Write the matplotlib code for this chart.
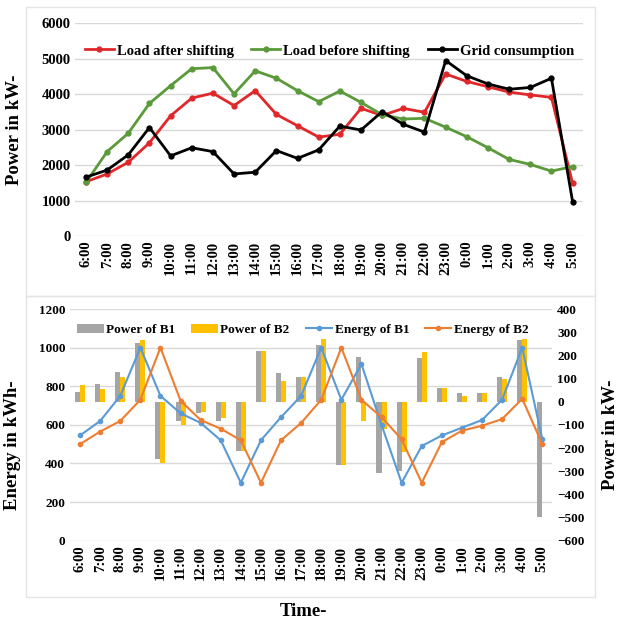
import matplotlib
matplotlib.use("Agg")
import matplotlib.pyplot as plt
from matplotlib.patches import Rectangle
import numpy as np

plt.rcParams['font.family'] = ['Liberation Serif', 'DejaVu Serif']
plt.rcParams['font.weight'] = 'bold'

# hours of the day, starting at 6:00
hours = ['6:00', '7:00', '8:00', '9:00', '10:00', '11:00', '12:00', '13:00',
         '14:00', '15:00', '16:00', '17:00', '18:00', '19:00', '20:00', '21:00',
         '22:00', '23:00', '0:00', '1:00', '2:00', '3:00', '4:00', '5:00']

# top chart (kW)
load_after = [1530, 1750, 2080, 2630, 3390, 3890, 4030, 3680, 4100, 3430, 3110, 2790,
              2870, 3600, 3400, 3600, 3490, 4570, 4360, 4210, 4060, 3980, 3910, 1490]
load_before = [1510, 2380, 2900, 3740, 4240, 4720, 4750, 4010, 4660, 4450, 4100, 3790,
               4090, 3770, 3420, 3300, 3320, 3070, 2800, 2490, 2160, 2020, 1830, 1960]
grid_cons = [1660, 1860, 2290, 3060, 2260, 2490, 2380, 1750, 1800, 2410, 2190, 2430,
             3100, 2990, 3510, 3150, 2930, 4950, 4520, 4290, 4140, 4190, 4450, 970]

# bottom chart: battery power (kW, right axis) and energy (kWh, left axis)
power_b1 = [43, 77, 127, 253, -247, -83, -51, -83, -214, 217, 124, 107,
            243, -273, 193, -309, -300, 189, 60, 36, 39, 107, 267, -497]
power_b2 = [70, 53, 106, 267, -266, -100, -43, -69, -211, 217, 91, 107,
            271, -273, -83, -116, -216, 214, 60, 24, 36, 100, 271, 0]
energy_b1 = [545, 620, 750, 1000, 750, 660, 610, 520, 300, 520, 640, 750,
             1000, 730, 915, 600, 300, 490, 545, 585, 625, 730, 1000, 525]
energy_b2 = [500, 565, 620, 730, 1000, 725, 625, 580, 520, 300, 520, 610,
             730, 1000, 730, 640, 525, 300, 510, 570, 595, 630, 735, 500]

x = np.arange(len(hours))
grid_col = '#d9d9d9'

fig = plt.figure(figsize=(6.2, 6.25), dpi=100)

# chart area frames
for y0, h in [(0.527, 0.462), (0.045, 0.482)]:
    fig.add_artist(Rectangle((0.042, y0), 0.918, h, transform=fig.transFigure,
                             fill=False, edgecolor='#e4e4e4', lw=1))


def style_axes(ax, tick_size):
    for s in ax.spines.values():
        s.set_visible(False)
    ax.tick_params(length=0, labelsize=tick_size)
    ax.set_xlim(-0.5, len(hours) - 0.5)
    ax.set_xticks(x)
    ax.set_xticklabels(hours, rotation=90, fontsize=10.5, fontweight='bold')


# ---- top chart ----
ax1 = fig.add_axes([0.1216, 0.6224, 0.819, 0.3403])
style_axes(ax1, 10.5)
ax1.set_ylim(0, 6000)
ax1.set_yticks(range(0, 6001, 1000))
ax1.yaxis.grid(True, color=grid_col, lw=1)
ax1.set_axisbelow(True)
ax1.plot(x, load_after, color='#e0282b', lw=2, marker='o', ms=3.5, label='Load after shifting')
ax1.plot(x, load_before, color='#5b9a3a', lw=2, marker='o', ms=3.5, label='Load before shifting')
ax1.plot(x, grid_cons, color='black', lw=2, marker='o', ms=3.5, label='Grid consumption')
ax1.legend(loc='center', bbox_to_anchor=(0.5, 0.87), ncol=3, frameon=False,
           prop={'size': 10.5, 'weight': 'bold'}, handlelength=2.0, columnspacing=1.2,
           handletextpad=0.2)
fig.text(0.024, 1 - 130 / 625, 'Power in kW-', rotation=90, ha='center', va='center',
         fontsize=13.5, fontweight='bold')

# ---- bottom chart ----
pos = [0.1129, 0.1349, 0.778, 0.3707]
ax2 = fig.add_axes(pos)
style_axes(ax2, 9.5)
ax2.set_ylim(0, 1200)
ax2.set_yticks(range(0, 1201, 200))
ax2.yaxis.grid(True, color=grid_col, lw=1)

ax2r = ax2.twinx()
for s in ax2r.spines.values():
    s.set_visible(False)
ax2r.tick_params(length=0, labelsize=9.5)
ax2r.set_ylim(-600, 400)
ax2r.set_yticks(range(-600, 401, 100))
w = 0.25
b1 = ax2r.bar(x - w / 2, power_b1, w, color='#a5a5a5', label='Power of B1')
b2 = ax2r.bar(x + w / 2, power_b2, w, color='#ffc000', label='Power of B2')

ax3 = fig.add_axes(pos, sharex=ax2)
ax3.set_ylim(0, 1200)
ax3.axis('off')
l1, = ax3.plot(x, energy_b1, color='#5b9bd5', lw=1.5, marker='o', ms=3, label='Energy of B1')
l2, = ax3.plot(x, energy_b2, color='#ed7d31', lw=1.5, marker='o', ms=3, label='Energy of B2')

ax3.legend(handles=[b1, b2, l1, l2], loc='center', bbox_to_anchor=(0.483, 0.911), ncol=4,
           frameon=False, prop={'size': 9.5, 'weight': 'bold'}, handlelength=2.0,
           columnspacing=1.2, handletextpad=0.2)

fig.text(0.02, 1 - 445 / 625, 'Energy in kWh-', rotation=90, ha='center', va='center',
         fontsize=13.5, fontweight='bold')
fig.text(0.985, 1 - 435 / 625, 'Power in kW-', rotation=90, ha='center', va='center',
         fontsize=13.5, fontweight='bold')
fig.text(0.49, 1 - 612 / 625, 'Time-', ha='center', va='center',
         fontsize=13.5, fontweight='bold')

fig.savefig('out.png', dpi=100)
